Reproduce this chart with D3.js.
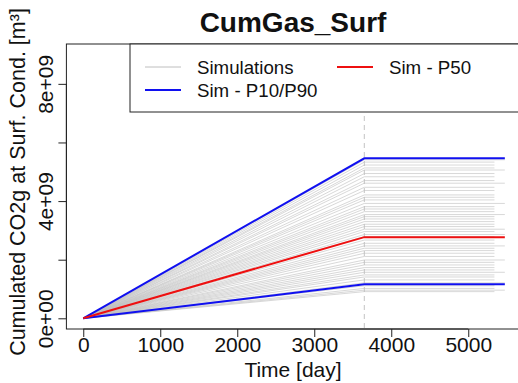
<!DOCTYPE html>
<html><head><meta charset="utf-8">
<script src="https://cdn.jsdelivr.net/npm/d3@7"></script>
<style>body{margin:0;background:#fff;} text{font-family:"Liberation Sans",Arial,Helvetica,sans-serif;}</style>
</head><body>
<svg id="c" width="518" height="383"></svg>
<script>
// ---- data ----
const timeDays = [0, 3650, 5475];
const simPlateaus = [5.41, 5.33, 5.23, 5.13, 5.06, 4.94, 4.83, 4.70, 4.61, 4.47, 4.36, 4.21, 4.13, 4.04, 3.92, 3.81,
                     3.73, 3.64, 3.54, 3.47, 3.39, 3.30, 3.21, 3.13, 3.04, 2.96, 2.86, 2.79, 2.67, 2.56, 2.47, 2.39,
                     2.31, 2.22, 2.11, 1.99, 1.91, 1.82, 1.73, 1.65, 1.57, 1.48, 1.41, 1.31, 1.21, 1.11, 1.02, 0.96, 0.91]; // e9 m3
const simEndDays = [5475, 5340, 5340, 5340, 5475, 5340, 5340, 5340, 5475, 5340, 5340, 5340, 5340, 5340, 5475, 5340,
                    5340, 5340, 5475, 5340, 5340, 5340, 5340, 5340, 5475, 5340, 5475, 5340, 5340, 5340, 5475, 5340,
                    5340, 5340, 5340, 5475, 5340, 5340, 5340, 5340, 5475, 5340, 5340, 5340, 5475, 5340, 5340, 5475, 5340];
const p10Plateau = 1.16, p50Plateau = 2.77, p90Plateau = 5.46; // e9 m3
const xTicks = [0, 1000, 2000, 3000, 4000, 5000];
const yTicks = [0, 2e9, 4e9, 6e9, 8e9];
const yTickLabels = ["0e+00", "", "4e+09", "", "8e+09"];
const legendItems = [
  {label: "Simulations", color: "#bebebe", w: 1},
  {label: "Sim - P10/P90", color: "#1010f0", w: 2},
  {label: "Sim - P50", color: "#ee1010", w: 2}
];

const svg = d3.select("#c");
const L = 66.4, R = 521.7, T = 44, B = 329;
const x = d3.scaleLinear().domain([-219, 5694]).range([L, R]);
const y = d3.scaleLinear().domain([-0.365e9, 9.36e9]).range([B, T]);

const seriesOf = (plateau, end) => [[timeDays[0], 0], [timeDays[1], plateau * 1e9], [end, plateau * 1e9]];
const line = d3.line().x(d => x(d[0])).y(d => y(d[1]));

const plot = svg.append("g");
// dashed vertical line
plot.append("line").attr("x1", x(3650)).attr("x2", x(3650)).attr("y1", T).attr("y2", B)
  .attr("stroke", "#c4c4c4").attr("stroke-width", 1).attr("stroke-dasharray", "5,4");

// simulations
simPlateaus.forEach((v, i) => {
  plot.append("path").attr("d", line(seriesOf(v, simEndDays[i])))
    .attr("fill", "none").attr("stroke", "#bebebe").attr("stroke-opacity", 0.6).attr("stroke-width", 1);
});
// P10/P90
[p10Plateau, p90Plateau].forEach(v => {
  plot.append("path").attr("d", line(seriesOf(v, timeDays[2])))
    .attr("fill", "none").attr("stroke", legendItems[1].color).attr("stroke-width", 2);
});
plot.append("path").attr("d", line(seriesOf(p50Plateau, timeDays[2])))
  .attr("fill", "none").attr("stroke", legendItems[2].color).attr("stroke-width", 2);

// box
svg.append("rect").attr("x", L).attr("y", T).attr("width", R - L).attr("height", B - T)
  .attr("fill", "none").attr("stroke", "#222").attr("stroke-width", 1);

// axes
const xAxis = d3.axisBottom(x).tickValues(xTicks).tickSize(8).tickPadding(0).tickFormat(d3.format("d"));
const gx = svg.append("g").attr("transform", `translate(0,${B})`).call(xAxis);
gx.select(".domain").attr("d", `M${x(0)},0H${x(5000)}`).attr("stroke", "#222");
gx.selectAll(".tick line").attr("stroke", "#222");
gx.selectAll("text").attr("font-size", 21).attr("fill", "#111").attr("dy", "0.71em");

const yAxis = d3.axisLeft(y).tickValues(yTicks).tickSize(8).tickFormat((d, i) => yTickLabels[i]);
const gy = svg.append("g").attr("transform", `translate(${L},0)`).call(yAxis);
gy.select(".domain").attr("d", `M0,${y(0)}V${y(8e9)}`).attr("stroke", "#222");
gy.selectAll(".tick line").attr("stroke", "#222");
gy.selectAll(".tick text").attr("x", 0).attr("dy", 0).attr("text-anchor", "middle")
  .attr("font-size", 21).attr("fill", "#111")
  .attr("transform", "translate(-13,0) rotate(-90)");

// titles
svg.append("text").attr("x", 293).attr("y", 32).attr("text-anchor", "middle")
  .attr("font-size", 28).attr("font-weight", "bold").attr("fill", "#111").text("CumGas_Surf");
svg.append("text").attr("x", 293).attr("y", 377).attr("text-anchor", "middle")
  .attr("font-size", 21).attr("fill", "#111").text("Time [day]");
svg.append("text").attr("transform", "translate(25,182) rotate(-90)").attr("text-anchor", "middle")
  .attr("font-size", 21.5).attr("fill", "#111").text("Cumulated CO2g at Surf. Cond. [m³]");

// legend
const lg = svg.append("g");
lg.append("rect").attr("x", 130).attr("y", T).attr("width", 420).attr("height", 68)
  .attr("fill", "#fff").attr("stroke", "#222").attr("stroke-width", 1);
const lpos = [{x: 145, y: 67}, {x: 145, y: 90}, {x: 337, y: 67}];
legendItems.forEach((d, i) => {
  const p = lpos[i];
  lg.append("line").attr("x1", p.x).attr("x2", p.x + 36).attr("y1", p.y).attr("y2", p.y)
    .attr("stroke", d.color).attr("stroke-width", d.w);
  lg.append("text").attr("x", p.x + 52).attr("y", p.y + 7).attr("font-size", 18.7).attr("fill", "#111").text(d.label);
});
</script>
</body></html>
